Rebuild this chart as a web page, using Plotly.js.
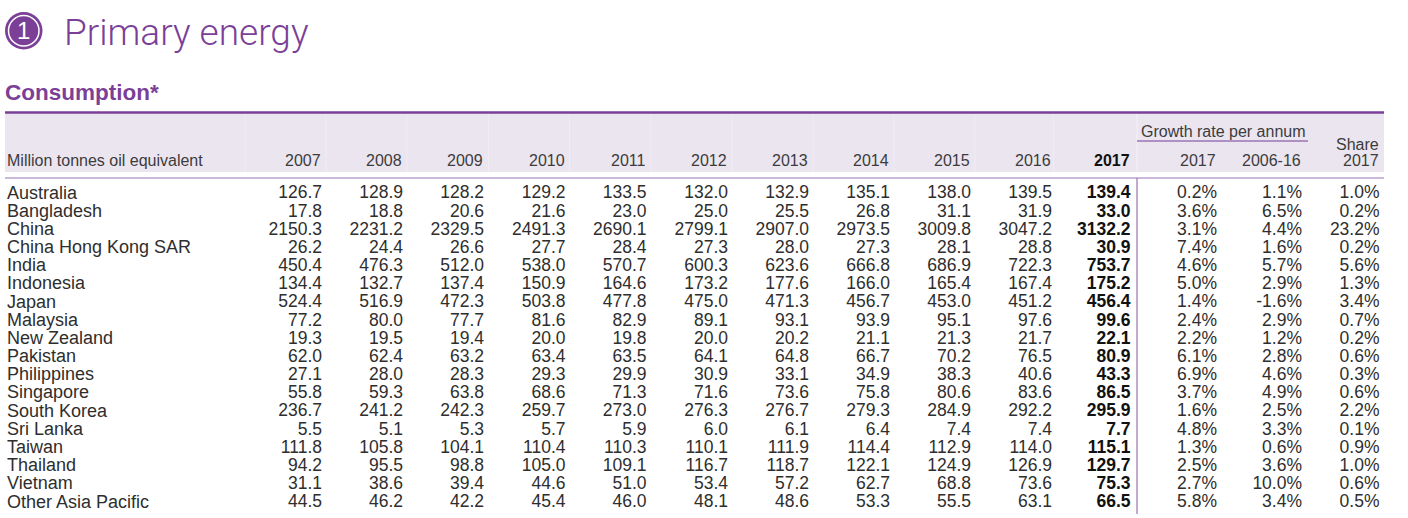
<!DOCTYPE html>
<html>
<head>
<meta charset="utf-8">
<script src="https://cdn.plot.ly/plotly-3.0.1.min.js"></script>
<style>
  body { margin: 0; background: #fff; }
  #table { width: 1408px; height: 518px; }
</style>
</head>
<body>
<div id="table"></div>
<script>
// Primary energy consumption, Asia Pacific (million tonnes oil equivalent)
var countries = ['Australia', 'Bangladesh', 'China', 'China Hong Kong SAR', 'India', 'Indonesia',
  'Japan', 'Malaysia', 'New Zealand', 'Pakistan', 'Philippines', 'Singapore', 'South Korea',
  'Sri Lanka', 'Taiwan', 'Thailand', 'Vietnam', 'Other Asia Pacific'];

var years = ['2007', '2008', '2009', '2010', '2011', '2012', '2013', '2014', '2015', '2016', '2017'];

var v2007 = [126.7, 17.8, 2150.3, 26.2, 450.4, 134.4, 524.4, 77.2, 19.3, 62.0, 27.1, 55.8, 236.7, 5.5, 111.8, 94.2, 31.1, 44.5];
var v2008 = [128.9, 18.8, 2231.2, 24.4, 476.3, 132.7, 516.9, 80.0, 19.5, 62.4, 28.0, 59.3, 241.2, 5.1, 105.8, 95.5, 38.6, 46.2];
var v2009 = [128.2, 20.6, 2329.5, 26.6, 512.0, 137.4, 472.3, 77.7, 19.4, 63.2, 28.3, 63.8, 242.3, 5.3, 104.1, 98.8, 39.4, 42.2];
var v2010 = [129.2, 21.6, 2491.3, 27.7, 538.0, 150.9, 503.8, 81.6, 20.0, 63.4, 29.3, 68.6, 259.7, 5.7, 110.4, 105.0, 44.6, 45.4];
var v2011 = [133.5, 23.0, 2690.1, 28.4, 570.7, 164.6, 477.8, 82.9, 19.8, 63.5, 29.9, 71.3, 273.0, 5.9, 110.3, 109.1, 51.0, 46.0];
var v2012 = [132.0, 25.0, 2799.1, 27.3, 600.3, 173.2, 475.0, 89.1, 20.0, 64.1, 30.9, 71.6, 276.3, 6.0, 110.1, 116.7, 53.4, 48.1];
var v2013 = [132.9, 25.5, 2907.0, 28.0, 623.6, 177.6, 471.3, 93.1, 20.2, 64.8, 33.1, 73.6, 276.7, 6.1, 111.9, 118.7, 57.2, 48.6];
var v2014 = [135.1, 26.8, 2973.5, 27.3, 666.8, 166.0, 456.7, 93.9, 21.1, 66.7, 34.9, 75.8, 279.3, 6.4, 114.4, 122.1, 62.7, 53.3];
var v2015 = [138.0, 31.1, 3009.8, 28.1, 686.9, 165.4, 453.0, 95.1, 21.3, 70.2, 38.3, 80.6, 284.9, 7.4, 112.9, 124.9, 68.8, 55.5];
var v2016 = [139.5, 31.9, 3047.2, 28.8, 722.3, 167.4, 451.2, 97.6, 21.7, 76.5, 40.6, 83.6, 292.2, 7.4, 114.0, 126.9, 73.6, 63.1];
var v2017 = [139.4, 33.0, 3132.2, 30.9, 753.7, 175.2, 456.4, 99.6, 22.1, 80.9, 43.3, 86.5, 295.9, 7.7, 115.1, 129.7, 75.3, 66.5];

var growth2017 = [0.2, 3.6, 3.1, 7.4, 4.6, 5.0, 1.4, 2.4, 2.2, 6.1, 6.9, 3.7, 1.6, 4.8, 1.3, 2.5, 2.7, 5.8];
var growth0616 = [1.1, 6.5, 4.4, 1.6, 5.7, 2.9, -1.6, 2.9, 1.2, 2.8, 4.6, 4.9, 2.5, 3.3, 0.6, 3.6, 10.0, 3.4];
var share2017 = [1.0, 0.2, 23.2, 0.2, 5.6, 1.3, 3.4, 0.7, 0.2, 0.6, 0.3, 0.6, 2.2, 0.1, 0.9, 1.0, 0.6, 0.5];

var yearSeries = [v2007, v2008, v2009, v2010, v2011, v2012, v2013, v2014, v2015, v2016, v2017];
var pctSeries = [growth2017, growth0616, share2017];
var pctHeads = ['2017', '2006-16', '2017'];

// layout (x in page pixels, rows on a category axis)
var W = 1408, H = 518;
var PURPLE = '#7b3f98', LINE = '#9a73b5', TXT = '#2e2e2e', HEAD = '#3c3c3c';
var FONT = 'Liberation Sans, Arial, sans-serif';
var yearRight = [321, 402, 483, 564.5, 645.5, 727, 808, 889, 970, 1051, 1129.5];
var pctRight = [1216, 1301, 1378.5];
var shift = 1; // text offset of 'middle left' text
var firstRow = 194, rowStep = 309 / 17;

function py(p) { return 1 - p / H; }

var data = [];

data.push({
  type: 'scatter', mode: 'text',
  x: countries.map(function () { return 8 - shift; }),
  y: countries,
  text: countries,
  textposition: 'middle right',
  textfont: { family: FONT, size: 18, color: TXT },
  hoverinfo: 'skip'
});

yearSeries.forEach(function (vals, j) {
  var last = j === yearSeries.length - 1;
  data.push({
    type: 'scatter', mode: 'text',
    x: vals.map(function () { return yearRight[j] + shift; }),
    y: countries,
    text: vals.map(function (v) { return v.toFixed(1); }),
    textposition: 'middle left',
    textfont: { family: FONT, size: 17.5, color: last ? '#111' : TXT, weight: last ? 'bold' : 'normal' },
    hoverinfo: 'skip'
  });
});

pctSeries.forEach(function (vals, j) {
  data.push({
    type: 'scatter', mode: 'text',
    x: vals.map(function () { return pctRight[j] + shift; }),
    y: countries,
    text: vals.map(function (v) { return v.toFixed(1) + '%'; }),
    textposition: 'middle left',
    textfont: { family: FONT, size: 17.5, color: TXT },
    hoverinfo: 'skip'
  });
});

var shapes = [
  // header band
  { type: 'rect', xref: 'x', yref: 'paper', x0: 5, x1: 1384, y0: py(172), y1: py(113),
    fillcolor: '#ebe5f0', line: { width: 0 }, layer: 'below' },
  { type: 'line', xref: 'x', yref: 'paper', x0: 5, x1: 1384, y0: py(112.5), y1: py(112.5),
    line: { color: PURPLE, width: 2.5 } },
  { type: 'line', xref: 'x', yref: 'paper', x0: 5, x1: 1384, y0: py(178), y1: py(178),
    line: { color: LINE, width: 1.2 } },
  { type: 'line', xref: 'x', yref: 'paper', x0: 1137, x1: 1137, y0: py(178), y1: py(514),
    line: { color: LINE, width: 1.2 } },
  { type: 'line', xref: 'x', yref: 'paper', x0: 1137, x1: 1308, y0: py(141), y1: py(141),
    line: { color: LINE, width: 1.5 } },
  // chapter badge
  { type: 'circle', xref: 'x', yref: 'paper', x0: 5, x1: 42.5, y0: py(49.5), y1: py(12),
    fillcolor: PURPLE, line: { width: 0 } },
  { type: 'circle', xref: 'x', yref: 'paper', x0: 8.5, x1: 39, y0: py(46), y1: py(15.5),
    fillcolor: 'rgba(0,0,0,0)', line: { color: '#fff', width: 1.5 } }
];

// faint column dividers inside the header band
yearRight.forEach(function (r) {
  shapes.push({ type: 'line', xref: 'x', yref: 'paper', x0: r - 76, x1: r - 76, y0: py(172), y1: py(113),
    line: { color: '#ffffff', width: 1 }, opacity: 0.3, layer: 'below' });
});
shapes.push({ type: 'line', xref: 'x', yref: 'paper', x0: 1137, x1: 1137, y0: py(172), y1: py(113),
  line: { color: '#ffffff', width: 1 }, opacity: 0.5, layer: 'below' });

function note(text, x, yPix, xanchor, font) {
  return { text: text, x: x, y: py(yPix), xref: 'x', yref: 'paper', xanchor: xanchor, yanchor: 'middle',
    showarrow: false, font: font };
}

var annotations = [
  note('1', 23.7, 31, 'center', { family: FONT, size: 24, color: '#fff' }),
  note('Primary energy', 62, 33, 'left', { family: 'Roboto, sans-serif', size: 37, color: PURPLE, weight: 300 }),
  note('<b>Consumption*</b>', 3, 93, 'left', { family: FONT, size: 22.5, color: PURPLE }),
  note('Million tonnes oil equivalent', 5, 161, 'left', { family: FONT, size: 16, color: HEAD }),
  note('Growth rate per annum', 1223, 131, 'center', { family: FONT, size: 16, color: HEAD }),
  note('Share', pctRight[2] + 2, 144, 'right', { family: FONT, size: 16, color: HEAD })
];

years.forEach(function (yr, j) {
  var last = j === years.length - 1;
  annotations.push(note(last ? '<b>' + yr + '</b>' : yr, yearRight[j] + 2, 161, 'right',
    { family: FONT, size: 16, color: last ? '#111' : HEAD }));
});
pctHeads.forEach(function (h, j) {
  annotations.push(note(h, pctRight[j] + 2, 161, 'right', { family: FONT, size: 16, color: HEAD }));
});

var layout = {
  width: W, height: H,
  margin: { l: 0, r: 0, t: 0, b: 0 },
  paper_bgcolor: '#fff', plot_bgcolor: '#fff',
  showlegend: false,
  xaxis: { range: [0, W], visible: false, fixedrange: true },
  yaxis: { type: 'category', categoryarray: countries, categoryorder: 'array',
    range: [(H - firstRow) / rowStep, -firstRow / rowStep], visible: false, fixedrange: true },
  shapes: shapes,
  annotations: annotations
};

Plotly.newPlot('table', data, layout, { displayModeBar: false, staticPlot: true });
</script>
</body>
</html>
